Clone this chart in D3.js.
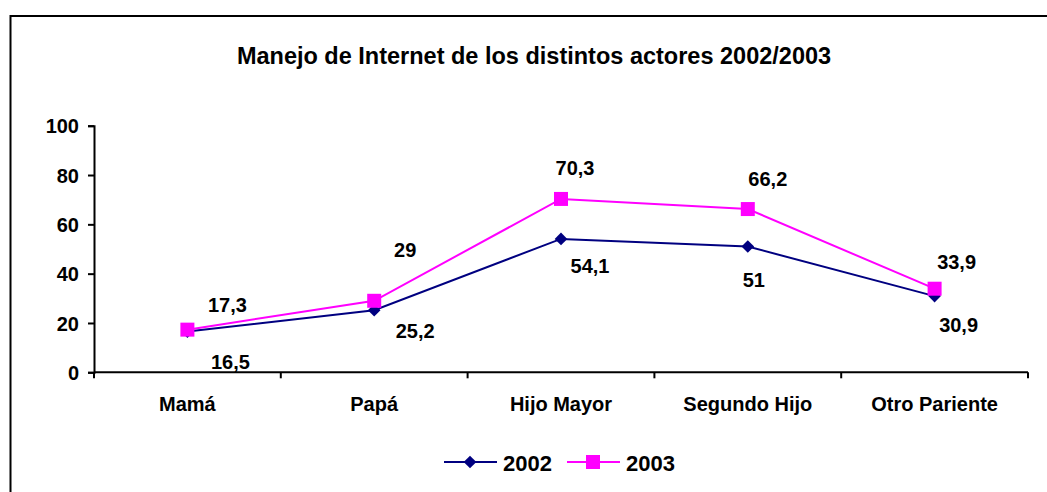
<!DOCTYPE html>
<html>
<head>
<meta charset="utf-8">
<script src="https://cdn.jsdelivr.net/npm/d3@7/dist/d3.min.js"></script>
<style>
  html, body { margin: 0; padding: 0; background: #fff; }
  svg { display: block; }
  text { font-family: "Liberation Sans", Arial, sans-serif; font-weight: bold; fill: #000; }
</style>
</head>
<body>
<svg id="chart" width="1047" height="492"></svg>
<script>
// chart data
const title = 'Manejo de Internet de los distintos actores 2002/2003';
const categories = ['Mamá', 'Papá', 'Hijo Mayor', 'Segundo Hijo', 'Otro Pariente'];
const values2002 = [16.5, 25.2, 54.1, 51, 30.9];
const values2003 = [17.3, 29, 70.3, 66.2, 33.9];
const yTicks = [0, 20, 40, 60, 80, 100];
const seriesNames = ['2002', '2003'];

// where each value label sits relative to its point (dx, dy of baseline)
const labelOffsets2002 = [[43, 37], [41, 28], [29, 34], [6, 40], [24, 36]];
const labelOffsets2003 = [[40, -18], [31, -44], [14, -24], [20, -23], [22, -20]];

const svg = d3.select('#chart');
const W = 1047, H = 492;
const plot = { left: 94, right: 1028, top: 125.7, bottom: 372.3 };

// outer frame (right and bottom edges run off the picture)
svg.append('rect').attr('x', 10.5).attr('y', 16).attr('width', W + 20).attr('height', H + 20)
    .attr('fill', 'none').attr('stroke', '#000').attr('stroke-width', 2);

svg.append('text').attr('x', 534).attr('y', 64).attr('text-anchor', 'middle')
    .style('font-size', '23.5px').text(title);

const x = d3.scaleBand().domain(categories).range([plot.left, plot.right]).padding(0);
const y = d3.scaleLinear().domain([0, 100]).range([plot.bottom, plot.top]);
const cx = d => x(d) + x.bandwidth() / 2;

// y axis
const yAxis = svg.append('g').attr('transform', `translate(${plot.left},0)`)
    .call(d3.axisLeft(y).tickValues(yTicks).tickSize(6).tickPadding(9).tickFormat(d3.format('d')));
yAxis.select('.domain').attr('stroke', '#000').attr('stroke-width', 2);
yAxis.selectAll('.tick line').attr('stroke', '#000').attr('stroke-width', 2);
yAxis.selectAll('text').attr('fill', '#000').style('font-size', '20px').style('font-family', null)
    .attr('dy', '0.36em');

// x axis: ticks on band edges
const xAxis = svg.append('g').attr('transform', `translate(0,${plot.bottom})`);
xAxis.append('line').attr('x1', plot.left).attr('x2', plot.right).attr('stroke', '#000').attr('stroke-width', 2);
const edges = categories.map(c => x(c) + x.bandwidth()).concat([plot.left]);
xAxis.selectAll('.xt').data(edges).join('line').attr('class', 'xt')
    .attr('x1', d => d).attr('x2', d => d).attr('y1', 0).attr('y2', 6)
    .attr('stroke', '#000').attr('stroke-width', 2);
xAxis.selectAll('.xl').data(categories).join('text').attr('class', 'xl')
    .attr('x', d => cx(d)).attr('y', 39).attr('text-anchor', 'middle')
    .style('font-size', '20px').text(d => d);

const colors = ['#000080', '#FF00FF'];
const line = d3.line().x((d, i) => cx(categories[i])).y(d => y(d));
const diamond = d3.symbol().type(d3.symbolSquare).size(80);
const square = d3.symbol().type(d3.symbolSquare).size(196);

function drawSeries(vals, color, shape, offsets) {
    svg.append('path').datum(vals).attr('fill', 'none').attr('stroke', color)
        .attr('stroke-width', 2).attr('d', line);
    svg.selectAll(null).data(vals).join('path')
        .attr('transform', (d, i) => `translate(${cx(categories[i])},${y(d)})${shape === 'diamond' ? ' rotate(45)' : ''}`)
        .attr('d', shape === 'diamond' ? diamond() : square())
        .attr('fill', color);
    svg.selectAll(null).data(vals).join('text')
        .attr('x', (d, i) => cx(categories[i]) + offsets[i][0])
        .attr('y', (d, i) => y(d) + offsets[i][1])
        .attr('text-anchor', 'middle').style('font-size', '20px')
        .text(d => String(d).replace('.', ','));
}

drawSeries(values2002, colors[0], 'diamond', labelOffsets2002);
drawSeries(values2003, colors[1], 'square', labelOffsets2003);

// legend
const legend = svg.append('g').attr('transform', 'translate(444,462)');
seriesNames.forEach((name, i) => {
    const g = legend.append('g').attr('transform', `translate(${i * 123},0)`);
    g.append('line').attr('x1', 0).attr('x2', 53).attr('stroke', colors[i]).attr('stroke-width', 2);
    g.append('path').attr('transform', i === 0 ? 'translate(26,0) rotate(45)' : 'translate(26,0)')
        .attr('d', i === 0 ? diamond() : square()).attr('fill', colors[i]);
    g.append('text').attr('x', 59).attr('y', 9).style('font-size', '22px').text(name);
});
</script>
</body>
</html>
